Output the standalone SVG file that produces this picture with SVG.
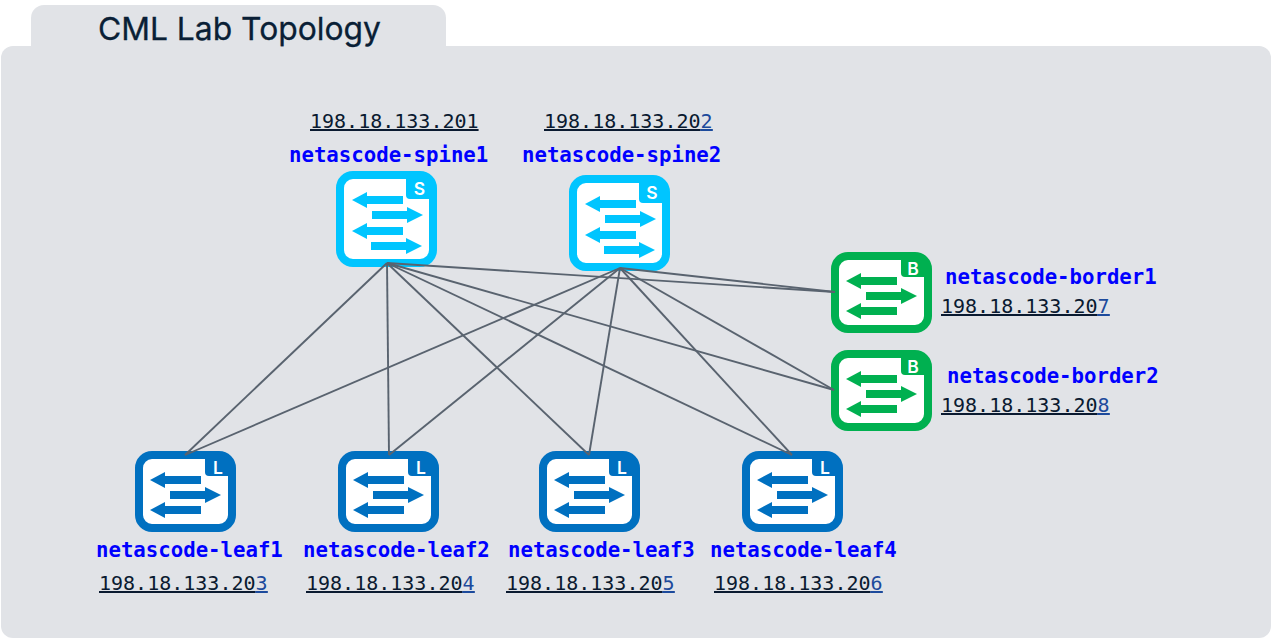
<svg xmlns="http://www.w3.org/2000/svg" xmlns:xlink="http://www.w3.org/1999/xlink" width="1272" height="638" viewBox="0 0 1272 638">
<style>
.bg{fill:#e1e3e7}
.title{font-family:Inter,"Liberation Sans",sans-serif;font-size:31.800px;fill:#0a1f36;stroke:#0a1f36;stroke-width:.3px}
.name{font-family:"DejaVu Sans Mono",monospace;font-weight:bold;font-size:20.7px;fill:#0000ff}
.ip{font-family:"DejaVu Sans Mono",monospace;font-size:20px;fill:#0a1a30;text-decoration:underline;text-decoration-thickness:2.2px;text-underline-offset:3px}
.ip tspan{fill:#1c4a9c;text-decoration:underline;text-decoration-thickness:2.2px;text-underline-offset:3px}
.badge{font-family:Inter,"Liberation Sans",sans-serif;font-weight:600;font-size:17.500px;fill:#fff;text-anchor:middle}
.link{stroke:#59636f;stroke-width:1.9;fill:none}
.spine{color:#00c5ff}.leaf{color:#0070c0}.border{color:#00b050}
</style>
<defs>
<path id="al" d="M0 0l15-8v4h36v8h-36v4z" fill="currentColor"/>
<path id="ar" d="M0-4h35v-4l16 8-16 8v-4h-35z" fill="currentColor"/>
<g id="tall">
<rect x="4" y="4" width="93" height="88" rx="13" fill="#fff" stroke="currentColor" stroke-width="8"/>
<path d="M70 4h24v24h-20a4 4 0 0 1-4-4z" fill="currentColor"/>
<use xlink:href="#al" href="#al" x="16" y="29"/>
<use xlink:href="#ar" href="#ar" x="36" y="44"/>
<use xlink:href="#al" href="#al" x="16" y="60"/>
<use xlink:href="#ar" href="#ar" x="35" y="75"/>
</g>
<g id="short">
<rect x="4" y="4" width="93" height="73" rx="13" fill="#fff" stroke="currentColor" stroke-width="8"/>
<path d="M70 4h24v21h-20a4 4 0 0 1-4-4z" fill="currentColor"/>
<use xlink:href="#al" href="#al" x="15" y="29"/>
<use xlink:href="#ar" href="#ar" x="35" y="44"/>
<use xlink:href="#al" href="#al" x="15" y="59"/>
</g>
</defs>
<g id="background">
<rect class="bg" x="31" y="5" width="415" height="60" rx="13"/>
<rect class="bg" x="1" y="46" width="1270" height="592" rx="12"/>
<text class="title" x="98" y="40">CML Lab Topology</text>
</g>
<g id="spine1" class="spine"><use xlink:href="#tall" href="#tall" x="336" y="171"/><text class="badge" x="419.500" y="195">S</text><text class="ip" x="310" y="128">198.18.133.201</text><text class="name" x="289" y="162">netascode-spine1</text></g>
<g id="spine2" class="spine"><use xlink:href="#tall" href="#tall" x="569" y="175"/><text class="badge" x="652" y="199">S</text><text class="ip" x="544" y="128">198.18.133.20<tspan>2</tspan></text><text class="name" x="522" y="162">netascode-spine2</text></g>
<g id="border1" class="border"><use xlink:href="#short" href="#short" x="831" y="252"/><text class="badge" x="913" y="275">B</text><text class="name" x="945" y="284">netascode-border1</text><text class="ip" x="941" y="313">198.18.133.20<tspan>7</tspan></text></g>
<g id="border2" class="border"><use xlink:href="#short" href="#short" x="831" y="350"/><text class="badge" x="913" y="373">B</text><text class="name" x="947" y="383">netascode-border2</text><text class="ip" x="941" y="412">198.18.133.20<tspan>8</tspan></text></g>
<g id="leaf1" class="leaf"><use xlink:href="#short" href="#short" x="135" y="451"/><text class="badge" x="218" y="474">L</text><text class="name" x="96" y="557">netascode-leaf1</text><text class="ip" x="99" y="590">198.18.133.20<tspan>3</tspan></text></g>
<g id="leaf2" class="leaf"><use xlink:href="#short" href="#short" x="338" y="451"/><text class="badge" x="421" y="474">L</text><text class="name" x="303" y="557">netascode-leaf2</text><text class="ip" x="306" y="590">198.18.133.20<tspan>4</tspan></text></g>
<g id="leaf3" class="leaf"><use xlink:href="#short" href="#short" x="539" y="451"/><text class="badge" x="622" y="474">L</text><text class="name" x="508" y="557">netascode-leaf3</text><text class="ip" x="506" y="590">198.18.133.20<tspan>5</tspan></text></g>
<g id="leaf4" class="leaf"><use xlink:href="#short" href="#short" x="742" y="451"/><text class="badge" x="825" y="474">L</text><text class="name" x="710" y="557">netascode-leaf4</text><text class="ip" x="714" y="590">198.18.133.20<tspan>6</tspan></text></g>
<g id="connectors">
<line class="link" x1="387" y1="263" x2="185" y2="455"/>
<line class="link" x1="387" y1="263" x2="389" y2="455"/>
<line class="link" x1="387" y1="263" x2="589" y2="455"/>
<line class="link" x1="387" y1="263" x2="792" y2="455"/>
<line class="link" x1="387" y1="263" x2="835" y2="292"/>
<line class="link" x1="387" y1="263" x2="834" y2="390"/>
<line class="link" x1="620" y1="268" x2="185" y2="455"/>
<line class="link" x1="620" y1="268" x2="389" y2="455"/>
<line class="link" x1="620" y1="268" x2="589" y2="455"/>
<line class="link" x1="620" y1="268" x2="792" y2="455"/>
<line class="link" x1="620" y1="268" x2="835" y2="292"/>
<line class="link" x1="620" y1="268" x2="834" y2="390"/>
</g>
</svg>
